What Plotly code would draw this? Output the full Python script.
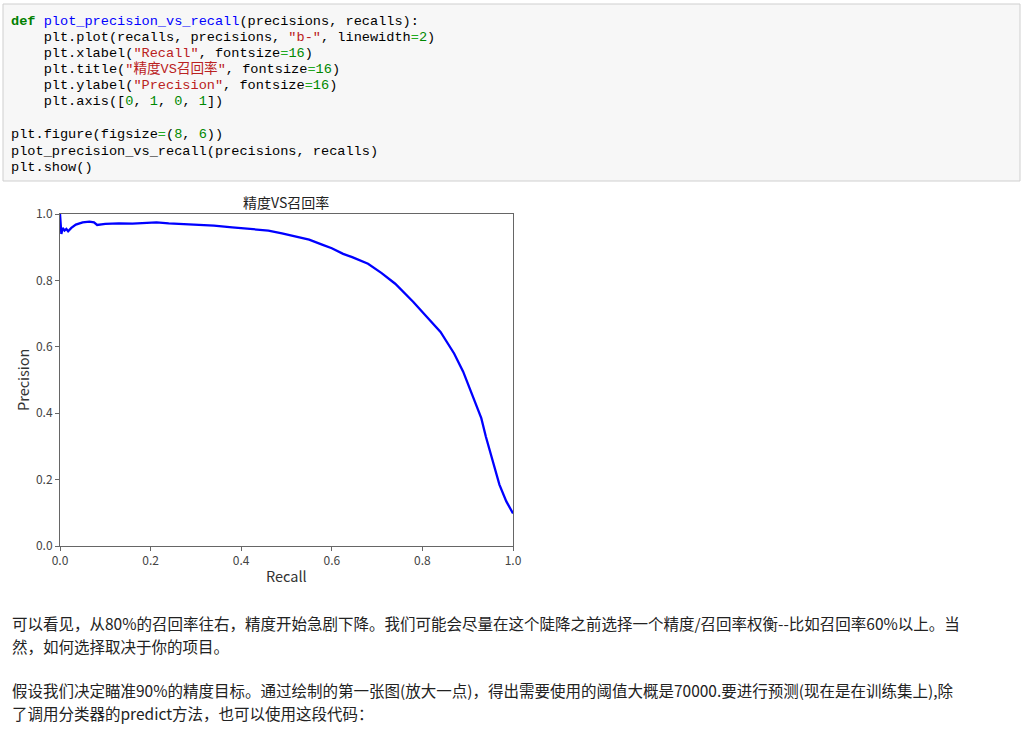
import plotly.graph_objects as go

# ---------------- data ----------------
recalls = [0.000, 0.001, 0.003, 0.006, 0.010, 0.014, 0.018, 0.025, 0.035, 0.050,
           0.065, 0.075, 0.082, 0.100, 0.130, 0.160, 0.190, 0.213, 0.240, 0.270,
           0.300, 0.340, 0.380, 0.420, 0.460, 0.490, 0.520, 0.550, 0.580, 0.600,
           0.625, 0.645, 0.680, 0.710, 0.740, 0.780, 0.810, 0.840, 0.870, 0.890,
           0.910, 0.930, 0.940, 0.955, 0.970, 0.985, 1.000]
precisions = [1.000, 0.985, 0.940, 0.958, 0.950, 0.955, 0.948, 0.958, 0.968, 0.975,
              0.977, 0.975, 0.967, 0.970, 0.972, 0.971, 0.973, 0.975, 0.972, 0.970,
              0.968, 0.965, 0.960, 0.955, 0.950, 0.942, 0.933, 0.923, 0.907, 0.897,
              0.880, 0.870, 0.850, 0.822, 0.790, 0.735, 0.690, 0.645, 0.580, 0.525,
              0.455, 0.385, 0.330, 0.260, 0.185, 0.135, 0.098]
tick_vals = [0.0, 0.2, 0.4, 0.6, 0.8, 1.0]
chart_title = "精度VS召回率"
x_label = "Recall"
y_label = "Precision"

KW = "#008000"; FN = "#0000ff"; ST = "#ba2121"; NU = "#008800"; OP = "#22aa22"
code_lines = [
    f'<b><span style="color:{KW}">def</span></b> <span style="color:{FN}">plot_precision_vs_recall</span>(precisions, recalls):',
    f'    plt.plot(recalls, precisions, <span style="color:{ST}">"b-"</span>, linewidth<span style="color:{OP}">=</span><span style="color:{NU}">2</span>)',
    f'    plt.xlabel(<span style="color:{ST}">"Recall"</span>, fontsize<span style="color:{OP}">=</span><span style="color:{NU}">16</span>)',
    f'    plt.title(<span style="color:{ST}">"精度VS召回率"</span>, fontsize<span style="color:{OP}">=</span><span style="color:{NU}">16</span>)',
    f'    plt.ylabel(<span style="color:{ST}">"Precision"</span>, fontsize<span style="color:{OP}">=</span><span style="color:{NU}">16</span>)',
    f'    plt.axis([<span style="color:{NU}">0</span>, <span style="color:{NU}">1</span>, <span style="color:{NU}">0</span>, <span style="color:{NU}">1</span>])',
    '',
    f'plt.figure(figsize<span style="color:{OP}">=</span>(<span style="color:{NU}">8</span>, <span style="color:{NU}">6</span>))',
    'plot_precision_vs_recall(precisions, recalls)',
    'plt.show()',
]
para_lines = [
    "可以看见，从80%的召回率往右，精度开始急剧下降。我们可能会尽量在这个陡降之前选择一个精度/召回率权衡--比如召回率60%以上。当",
    "然，如何选择取决于你的项目。",
    "假设我们决定瞄准90%的精度目标。通过绘制的第一张图(放大一点)，得出需要使用的阈值大概是70000.要进行预测(现在是在训练集上),除",
    "了调用分类器的predict方法，也可以使用这段代码：",
]

# ---------------- layout helpers ----------------
W, H = 1023, 738
PL, PR, PT, PB = 60, 513, 214, 546


def px(x):
    return (x - PL) / (PR - PL)


def py(y):
    return (PB - y) / (PB - PT)


CJK = "Noto Sans CJK SC, Noto Sans, sans-serif"
MONO = "Liberation Mono, DejaVu Sans Mono, Noto Sans CJK SC, monospace"

fig = go.Figure()
fig.add_trace(go.Scatter(x=recalls, y=precisions, mode="lines",
                         line=dict(color="#0000ff", width=2.3), showlegend=False,
                         hoverinfo="skip"))

annotations = []
shapes = []

# code cell box
shapes.append(dict(type="rect", xref="paper", yref="paper",
                   x0=px(3), x1=px(1020), y0=py(181), y1=py(4),
                   fillcolor="#f7f7f7", line=dict(color="#cfcfcf", width=1), layer="below"))

code_y = [21, 37, 53, 69, 85, 101, 118, 135, 151, 167]
for line, yy in zip(code_lines, code_y):
    if not line:
        continue
    out = []
    intag = False
    for ch in line:
        if ch == "<":
            intag = True
        elif ch == ">":
            intag = False
        out.append("\u00a0" if (ch == " " and not intag) else ch)
    annotations.append(dict(text="".join(out), xref="paper", yref="paper",
                            x=px(9), y=py(yy), xanchor="left", yanchor="middle",
                            showarrow=False, font=dict(family=MONO, size=13.6, color="#000")))

# chart title
annotations.append(dict(text=chart_title, xref="paper", yref="paper",
                        x=px(286), y=py(202), xanchor="center", yanchor="middle",
                        showarrow=False, font=dict(family=CJK, size=14, color="#222")))
# axis labels
annotations.append(dict(text=x_label, xref="paper", yref="paper",
                        x=px(286), y=py(575), xanchor="center", yanchor="middle",
                        showarrow=False, font=dict(family=CJK, size=14.5, color="#333")))
annotations.append(dict(text=y_label, xref="paper", yref="paper",
                        x=px(22), y=py(380), xanchor="center", yanchor="middle", textangle=-90,
                        showarrow=False, font=dict(family=CJK, size=14.5, color="#333")))

# paragraph text
para_y = [623, 646, 690, 713]
for line, yy in zip(para_lines, para_y):
    annotations.append(dict(text=line, xref="paper", yref="paper",
                            x=px(10), y=py(yy), xanchor="left", yanchor="middle",
                            showarrow=False, font=dict(family=CJK, size=15.5, color="#222")))

axis_common = dict(range=[0, 1], tickvals=tick_vals, tickformat=".1f",
                   showgrid=False, zeroline=False, showline=True, mirror=True,
                   linecolor="#666", linewidth=1, ticks="outside", ticklen=4,
                   tickcolor="#666", tickfont=dict(family=CJK, size=12, color="#444"))

fig.update_layout(
    width=W, height=H,
    margin=dict(l=PL, r=W - PR, t=PT, b=H - PB, pad=0),
    paper_bgcolor="white", plot_bgcolor="white",
    xaxis=dict(**axis_common),
    yaxis=dict(**axis_common),
    annotations=annotations, shapes=shapes,
    showlegend=False,
)

fig.write_html("out.html")
